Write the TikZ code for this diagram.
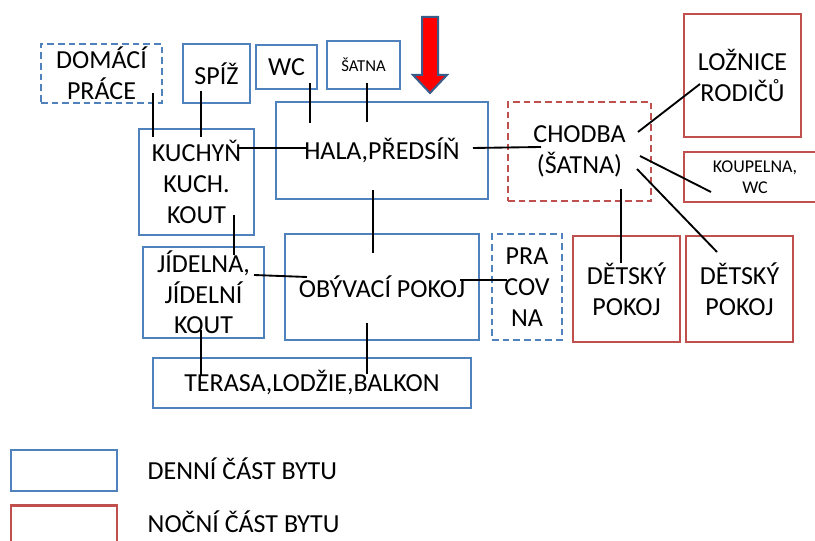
\documentclass[tikz,border=0pt]{standalone}
\usepackage{fontspec}
\setmainfont{Carlito}
\usepackage{tikz}
\usetikzlibrary{calc}
\definecolor{zoneblue}{HTML}{4F81BD}
\definecolor{zonered}{HTML}{C0504D}
\definecolor{arrowrim}{HTML}{385D8A}

\begin{document}
\begin{tikzpicture}[x=0.75pt, y=-0.75pt, font=\fontsize{19.5}{23}\selectfont]
  \tikzset{room/.style={rectangle, line width=2.2pt, inner sep=0pt, align=center},
    day/.style={room, draw=zoneblue}, night/.style={room, draw=zonered},
    optional/.style={dash pattern=on 5pt off 3pt},
    sz/.style 2 args={minimum width=#1*0.75pt, minimum height=#2*0.75pt},
    link/.style={line width=1.4pt}}
  \useasboundingbox (0,0) rectangle (815,541);
  % day part
  \node[day, optional, sz={121}{59}] (dom) at (101.5,73.5) {DOMÁCÍ\\PRÁCE};
  \node[day, sz={67}{59}] (spiz) at (216.5,73.5) {SPÍŽ};
  \node[day, sz={61}{44}] (wc) at (286.5,67) {WC};
  \node[day, sz={73}{48}, font=\fontsize{12.5}{15}\selectfont] (satna) at (363.5,65) {ŠATNA};
  \node[day, sz={212}{97}] (hala) at (382,150.5) {HALA,PŘEDSÍŇ};
  \node[day, sz={115}{106}] (kuch) at (196.5,182) {KUCHYŇ\\KUCH.\\KOUT};
  \node[day, sz={121}{91}] (jid) at (203.5,292.5) {JÍDELNA,\\JÍDELNÍ\\KOUT};
  \node[day, sz={194}{106}] (obyv) at (382,287) {OBÝVACÍ POKOJ};
  \node[day, optional, sz={70}{106}] (prac) at (527,287) {PRA\\COV\\NA};
  \node[day, sz={318}{50}] (ter) at (312,383) {TERASA,LODŽIE,BALKON};
  % night part
  \node[night, optional, sz={143}{99}] (chodba) at (579.5,151.5) {CHODBA\\(ŠATNA)};
  \node[night, sz={117}{123}] (loz) at (742.5,75.5) {LOŽNICE\\RODIČŮ};
  \node[night, sz={142}{50}, font=\fontsize{13.5}{16}\selectfont] (koup) at (755,177) {KOUPELNA,\\WC};
  \node[night, sz={107}{106}] (det1) at (626.5,289) {DĚTSKÝ\\POKOJ};
  \node[night, sz={107}{106}] (det2) at (739.5,289) {DĚTSKÝ\\POKOJ};
  % entrance
  \draw[fill=red, draw=arrowrim, line width=1.5pt]
    (422,17) -- (438,17) -- (438,75) -- (447,75) -- (430,93) -- (413,75) -- (422,75) -- cycle;
  % connections
  \draw[link] ($(dom)+(51.5,19.5)$) -- ($(kuch)+(-43.5,-45)$);
  \draw[link] ($(spiz)+(-15.5,17.5)$) -- ($(kuch)+(4.5,-45)$);
  \draw[link] ($(wc)+(23.5,16)$) -- ($(hala)+(-72,-27.5)$);
  \draw[link] ($(satna)+(3.5,18)$) -- ($(hala)+(-15,-28.5)$);
  \draw[link] ($(kuch)+(40.5,-34)$) -- ($(hala)+(-75,-2.5)$);
  \draw[link] ($(hala)+(91,-2.5)$) -- ($(chodba)+(-38.5,-4.5)$);
  \draw[link] ($(hala)+(-9,39.5)$) -- ($(obyv)+(-9,-34)$);
  \draw[link] ($(kuch)+(37.5,33)$) -- ($(jid)+(30.5,-37.5)$);
  \draw[link] ($(jid)+(50.5,-17.5)$) -- ($(obyv)+(-75,-10)$);
  \draw[link] ($(obyv)+(78,-7)$) -- ($(prac)+(-20,-7)$);
  \draw[link] ($(jid)+(-2.5,37.5)$) -- ($(ter)+(-111,-8)$);
  \draw[link] ($(obyv)+(-15,36)$) -- ($(ter)+(55,-9)$);
  \draw[link] ($(chodba)+(58.5,-19.5)$) -- ($(loz)+(-42.5,8.5)$);
  \draw[link] ($(chodba)+(60.5,4.5)$) -- ($(koup)+(-44,15)$);
  \draw[link] ($(chodba)+(57.5,17.5)$) -- ($(det2)+(-22.5,-37)$);
  \draw[link] ($(chodba)+(41.5,37.5)$) -- ($(det1)+(-5.5,-26)$);
  % legend
  \node[day, sz={106}{41}] (keyday) at (64,470.5) {};
  \node[night, sz={106}{41}] (keynight) at (64,526) {};
  \node[anchor=west] (txtday) at (143,469) {DENNÍ ČÁST BYTU};
  \node[anchor=west] (txtnight) at (143,522) {NOČNÍ ČÁST BYTU};
\end{tikzpicture}
\end{document}
